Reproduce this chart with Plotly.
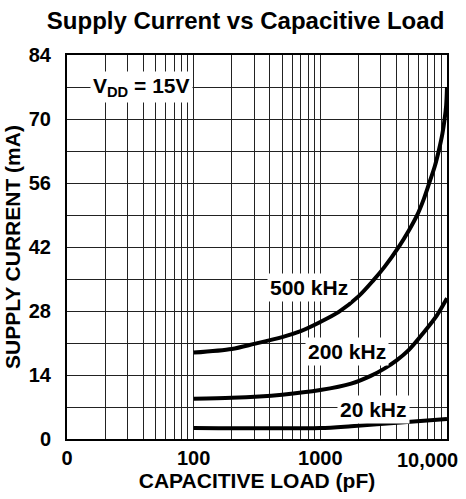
import math
import plotly.graph_objects as go

# Data
cap_500 = [100, 200, 300, 500, 700, 1000, 1400, 2000, 2600, 3200, 4200, 5000, 5800, 6500, 7200, 8000, 8600, 9200, 9600, 9850, 10000]
cur_500 = [18.9, 19.7, 20.8, 22.3, 23.6, 25.6, 27.8, 31.2, 34.6, 37.6, 42.2, 45.6, 48.9, 52.2, 55.8, 59.6, 63.0, 66.8, 70.2, 73.0, 77.0]

cap_200 = [100, 200, 500, 1000, 1750, 2500, 3200, 4000, 5000, 6500, 8300, 10000]
cur_200 = [8.8, 9.0, 9.7, 10.7, 12.1, 13.8, 15.4, 17.2, 19.5, 23.2, 27.0, 30.8]

cap_20 = [100, 1000, 1750, 4300, 10000]
cur_20 = [2.4, 2.4, 2.8, 3.6, 4.4]

x_major = [10, 100, 1000]
x_major_labels = ["0", "100", "1000"]
x_last_label = "10,000"
x_minor = [20, 30, 40, 50, 60, 70, 80, 90,
           200, 300, 400, 500, 600, 700, 800, 900,
           2000, 3000, 4000, 5000, 6000, 7000, 8000, 9000, 10000]
y_major = [0, 14, 28, 42, 56, 70, 84]
y_minor = [7, 21, 35, 49, 63, 77]

# curve labels: (capacitance, current, text)
label_cap = [38.8, 817, 1620, 2630]
label_cur = [77, 33.1, 19.2, 6.5]
label_txt = ["V<sub>DD</sub> = 15V", "500 kHz", "200 kHz", "20 kHz"]

FONT = "Liberation Sans, Arial, sans-serif"
GRID = "#222"

fig = go.Figure()
for cx, cy in [(cap_500, cur_500), (cap_200, cur_200), (cap_20, cur_20)]:
    fig.add_trace(go.Scatter(x=cx, y=cy, mode="lines",
                             line=dict(color="black", width=4, shape="spline", smoothing=0.8),
                             showlegend=False, hoverinfo="skip"))

for lx, ly, t in zip(label_cap, label_cur, label_txt):
    fig.add_annotation(x=math.log10(lx), y=ly, xref="x", yref="y", text="<b>" + t + "</b>", showarrow=False,
                       font=dict(family=FONT, size=21, color="black"), bgcolor="white", borderpad=2)

# last x tick label, pulled inside the figure like the reference
fig.add_annotation(x=1, y=0, xref="paper", yref="paper", xanchor="right", yanchor="middle",
                   xshift=13, yshift=-21, text="<b>" + x_last_label + "</b>", showarrow=False,
                   font=dict(family=FONT, size=20, color="black"))

fig.update_layout(
    width=466, height=499,
    margin=dict(l=63, r=19, t=55, b=60),
    paper_bgcolor="white", plot_bgcolor="white",
    title=dict(text="<b>Supply Current vs Capacitive Load</b>", x=0.527, xanchor="center",
               y=1 - 21 / 499, yanchor="middle",
               font=dict(family=FONT, size=24, color="black")),
    font=dict(family=FONT, color="black"),
)
fig.update_xaxes(
    type="log", range=[1, 4],
    tickvals=x_major, ticktext=["<b>" + t + "</b>" for t in x_major_labels],
    tickfont=dict(size=20, family=FONT), ticks="",
    showgrid=True, gridcolor=GRID, gridwidth=1,
    minor=dict(tickvals=x_minor, showgrid=True, gridcolor=GRID, gridwidth=1, ticks=""),
    showline=True, linecolor="black", linewidth=2, mirror=True,
    title=dict(text="<b>CAPACITIVE LOAD (pF)</b>", font=dict(size=21, family=FONT), standoff=0),
    zeroline=False,
)
fig.update_yaxes(
    range=[0, 84],
    tickvals=y_major, ticktext=["<b>%d</b>" % v for v in y_major],
    tickfont=dict(size=20, family=FONT), ticks="", ticklabelstandoff=10,
    showgrid=True, gridcolor=GRID, gridwidth=1,
    minor=dict(tickvals=y_minor, showgrid=True, gridcolor=GRID, gridwidth=1, ticks=""),
    showline=True, linecolor="black", linewidth=2, mirror=True,
    title=dict(text="<b>SUPPLY CURRENT (mA)</b>", font=dict(size=21, family=FONT), standoff=2),
    zeroline=False,
)

fig.write_html("out.html", config={"displayModeBar": False},
               post_script="document.body.style.margin='0';")
